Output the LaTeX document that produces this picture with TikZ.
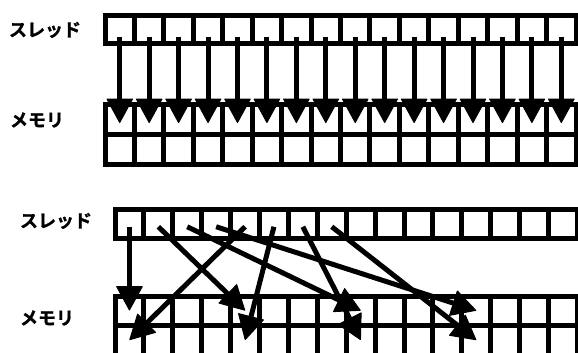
\documentclass[tikz,border=0pt]{standalone}
\usepackage{fontspec}
\newfontfamily\jp{Noto Sans CJK JP Bold}[FakeBold=1.2]
\usetikzlibrary{arrows.meta,calc}
\begin{document}
\begin{tikzpicture}[x=1pt,y=-1pt,
  gridcell/.style={draw=black,line width=5pt,inner sep=0pt,outer sep=0pt},
  ta/.style={gridcell,minimum width=29.44pt,minimum height=28.5pt},
  ma/.style={gridcell,minimum width=29.44pt,minimum height=30pt},
  tb/.style={gridcell,minimum width=28.9pt,minimum height=28.5pt},
  mb/.style={gridcell,minimum width=28.9pt,minimum height=29pt},
  mc/.style={gridcell,minimum width=28.9pt,minimum height=33pt},
  lab/.style={font=\jp\fontsize{18}{21}\selectfont,inner sep=0pt},
  arr/.style={line width=5pt,line join=round,-{Triangle[width=27pt 0,length=25pt 0,line width=1pt 0,round]}}]
\useasboundingbox (0,0) rectangle (578,353);
% labels
\node[lab] (lt1) at (45,30) {スレッド};
\node[lab] (lm1) at (37,120) {メモリ};
\node[lab] (lt2) at (56,221) {スレッド};
\node[lab] (lm2) at (47,318) {メモリ};
% top grids
\foreach \i in {0,...,15}{
  \node[ta] (t-\i) at ({105+29.44*(\i+0.5)},29.75) {};
  \node[ma] (m-\i) at ({105+29.44*(\i+0.5)},119) {};
  \node[ma] (n-\i) at ({105+29.44*(\i+0.5)},149) {};
}
% bottom grids
\foreach \i in {0,...,15}{
  \node[tb] (bt-\i) at ({115+28.9*(\i+0.5)},223.75) {};
  \node[mb] (bm-\i) at ({115+28.9*(\i+0.5)},310.5) {};
  \node[mc] (bn-\i) at ({115+28.9*(\i+0.5)},341.5) {};
}
% top arrows
\foreach \i in {0,...,15}{
  \draw[arr] ([yshift=-7pt]t-\i.center) -- ([yshift=-4pt]m-\i.center);
}
% bottom arrows
\foreach \s/\d in {0/0,1/4,2/8,3/12}{
  \draw[arr] ([yshift=-3pt]bt-\s.center) -- (bm-\d.center);
}
\foreach \s/\d in {4/0,5/4,6/8,7/12}{
  \draw[arr] ([yshift=-3pt]bt-\s.center) -- ([yshift=1.5pt]bn-\d.center);
}
\end{tikzpicture}
\end{document}
